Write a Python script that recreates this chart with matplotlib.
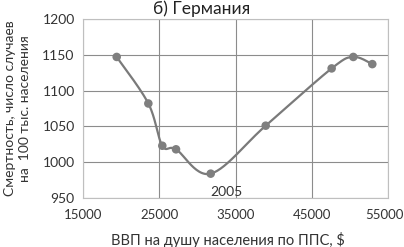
import numpy as np
import matplotlib
matplotlib.use("Agg")
import matplotlib.pyplot as plt
import matplotlib.transforms as mtransforms

plt.rcParams['font.family'] = ['Lato', 'DejaVu Sans']

gdp = [19420, 23570, 25400, 27200, 31750, 38960, 47610, 50450, 52940]
mortality = [1147, 1082, 1023, 1018, 984, 1051, 1131, 1147, 1137]
label_text = "2005"
label_index = 4
title = "б) Германия"
xlabel = "ВВП на душу населения по ППС, $"
ylabel = "Смертность, число случаев\nна  100 тыс. населения"
xticks = [15000, 25000, 35000, 45000, 55000]
yticks = [950, 1000, 1050, 1100, 1150, 1200]


def catmull_rom(x, y, n=30, tension=0.5):
    x = np.asarray(x, float); y = np.asarray(y, float)
    px = np.concatenate([[x[0]], x, [x[-1]]])
    py = np.concatenate([[y[0]], y, [y[-1]]])
    xs, ys = [], []
    for i in range(1, len(px) - 2):
        p0, p1, p2, p3 = (np.array([px[j], py[j]]) for j in range(i - 1, i + 3))
        m1 = tension * (p2 - p0)
        m2 = tension * (p3 - p1)
        t = np.linspace(0, 1, n)[:, None]
        h00 = 2*t**3 - 3*t**2 + 1
        h10 = t**3 - 2*t**2 + t
        h01 = -2*t**3 + 3*t**2
        h11 = t**3 - t**2
        pts = h00*p1 + h10*m1 + h01*p2 + h11*m2
        xs.extend(pts[:, 0]); ys.extend(pts[:, 1])
    return np.array(xs), np.array(ys)


fig = plt.figure(figsize=(4.04, 2.47), dpi=100)
ax = fig.add_axes([83/404, 1-198/247, (388-83)/404, (198-19)/247])

xn = (np.array(gdp) - 15000) / 40000
yn = (np.array(mortality) - 950) / 250 * (179/305)
sx, sy = catmull_rom(xn, yn)
sx = sx * 40000 + 15000
sy = sy / (179/305) * 250 + 950

ax.plot(sx, sy, color='#7a7a7a', lw=1.6, zorder=3)
ax.scatter(gdp, mortality, s=38, color='#7f7f7f', zorder=4, edgecolors='none')
ax.annotate(label_text, (gdp[label_index], mortality[label_index]), xytext=(11, -13),
            textcoords='offset points', ha='center', va='center', fontsize=10, color='#333333')

ax.set_xlim(15000, 55000)
ax.set_ylim(950, 1200)
ax.set_xticks(xticks)
ax.set_yticks(yticks)
ax.grid(True, color='#8c8c8c', lw=0.8)
ax.set_axisbelow(True)
for s in ax.spines.values():
    s.set_color('#bfbfbf'); s.set_linewidth(0.8)
ax.tick_params(length=0, labelsize=10, colors='#333333')
ax.tick_params(axis='x', pad=8, labelsize=9.5)
ax.tick_params(axis='y', pad=6)
labels = ax.get_xticklabels()
labels[-1].set_transform(labels[-1].get_transform() +
                         mtransforms.ScaledTranslation(-4/100, 0, fig.dpi_scale_trans))
fig.text(202/404, 1-9/247, title, fontsize=12.5, color='#222222', ha='center', va='center')
fig.text(228/404, 1-240/247, xlabel, fontsize=10.5, color='#333333', ha='center', va='center')
ax.set_ylabel(ylabel, fontsize=10, color='#333333', labelpad=8, linespacing=1.3)

fig.savefig("out.png", dpi=100)
